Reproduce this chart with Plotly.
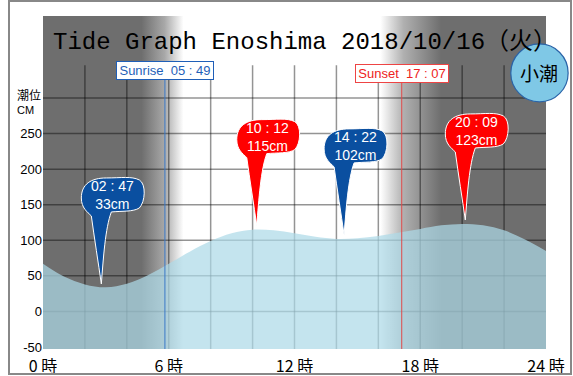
import plotly.graph_objects as go

# ---------------- data ----------------
hours = list(range(25))
tide_cm = [67, 49, 38, 34, 39, 51, 67, 84, 99, 110, 115, 114, 110, 105, 102,
           103, 106, 111, 116, 121, 123, 121, 114, 101, 85]

event_times = ["02:47", "10:12", "14:22", "20:09"]
event_cm = [33, 115, 102, 123]
event_kind = ["low", "high", "low", "high"]

sunrise = "05:49"
sunset = "17:07"

x_tick_hours = [0, 6, 12, 18, 24]
x_tick_text = ["0 時", "6 時", "12 時", "18 時", "24 時"]
y_tick_vals = [-50, 0, 50, 100, 150, 200, 250]
y_tick_text = ["-50", "0", "50", "100", "150", "200", "250"]
grid_hours = [2, 4, 6, 8, 10, 12, 14, 16, 18, 20, 22]
grid_cm = [0, 50, 100, 150, 200, 250, 300]

title_text = "Tide Graph Enoshima 2018/10/16（火）"
tide_type = "小潮"

# ---------------- helpers ----------------
def to_h(s):
    h, m = s.split(":")
    return int(h) + int(m) / 60.0

Y0, Y1 = -52.8, 415.3
X0, X1 = 0, 24
GRID_TOP = 346

DARK = "#6e6e6e"
fig = go.Figure()

# background with day/night gradient
fig.add_trace(go.Scatter(
    x=[X0, X1, X1, X0, X0], y=[Y0, Y0, Y1, Y1, Y0],
    mode="lines", line=dict(width=0), fill="toself",
    fillgradient=dict(
        type="horizontal", start=X0, stop=X1,
        colorscale=[[0, DARK], [4.7 / 24, DARK], [5.8 / 24, "#a8a8a8"],
                    [6.7 / 24, "#ffffff"], [16.1 / 24, "#ffffff"],
                    [17.2 / 24, "#b0b0b0"], [19.0 / 24, DARK], [1, DARK]]),
    hoverinfo="skip", showlegend=False))

# grid lines
gx, gy = [], []
for v in grid_cm:
    gx += [X0, X1, None]
    gy += [v, v, None]
for h in grid_hours:
    gx += [h, h, None]
    gy += [Y0, GRID_TOP, None]
fig.add_trace(go.Scatter(x=gx, y=gy, mode="lines",
                         line=dict(color="rgba(0,0,0,0.42)", width=1.5),
                         hoverinfo="skip", showlegend=False))

# baseline + tide area
fig.add_trace(go.Scatter(x=[X0, X1], y=[Y0, Y0], mode="lines",
                         line=dict(width=0), hoverinfo="skip", showlegend=False))
fig.add_trace(go.Scatter(x=hours, y=tide_cm, mode="lines",
                         line=dict(width=0, shape="spline", smoothing=1.0),
                         fill="tonexty", fillcolor="rgba(173,218,232,0.72)",
                         showlegend=False))

shapes = []
annotations = []

# sunrise / sunset lines
sr, ss = to_h(sunrise), to_h(sunset)
shapes.append(dict(type="line", xref="x", yref="paper", x0=sr, x1=sr, y0=0, y1=0.83,
                   line=dict(color="#3a78c8", width=1)))
shapes.append(dict(type="line", xref="x", yref="paper", x0=ss, x1=ss, y0=0, y1=0.82,
                   line=dict(color="#e04848", width=1)))
annotations.append(dict(x=sr, xref="x", y=0.836, yref="paper", showarrow=False,
                        xanchor="center", yanchor="middle",
                        text="Sunrise\u00a0\u00a0" + sunrise.replace(":", " : "),
                        font=dict(family="Liberation Sans Narrow, Liberation Sans", size=13, color="#1f5fb8"),
                        bgcolor="white", bordercolor="#1f5fb8", borderwidth=1, borderpad=1,
                        width=94))
annotations.append(dict(x=ss, xref="x", y=0.826, yref="paper", showarrow=False,
                        xanchor="center", yanchor="middle",
                        text="Sunset\u00a0\u00a0" + sunset.replace(":", " : "),
                        font=dict(family="Liberation Sans Narrow, Liberation Sans", size=13, color="#ee2222"),
                        bgcolor="white", bordercolor="#ee4444", borderwidth=1, borderpad=1,
                        width=90))

# pins
PIN_PATH = ("M 0 4 C -3 25, -7 50, -10 72 C -14 76, -20 80, -20 90 "
            "C -20 104, -10 110, 5 110 C 20 110, 30 112, 38 108 "
            "C 45 104, 44 86, 38 80 C 32 76, 20 77, 10 76 C 4 60, 2 30, 0 4 Z")
for t, cm, kind in zip(event_times, event_cm, event_kind):
    col = "#0a4fa0" if kind == "low" else "#ff0000"
    th = to_h(t)
    shapes.append(dict(type="path", xref="x", yref="y", xsizemode="pixel", ysizemode="pixel",
                       xanchor=th, yanchor=cm, path=PIN_PATH, fillcolor=col,
                       line=dict(color="white", width=1), layer="above"))
    annotations.append(dict(x=th, y=cm, xref="x", yref="y", showarrow=False,
                            xanchor="center", yanchor="middle",
                            xshift=11, yshift=93,
                            text=t.replace(":", " : ") + "<br>" + f"{cm}cm",
                            font=dict(family="Liberation Sans", size=14, color="white"),
                            align="center"))

# tide type badge
shapes.append(dict(type="circle", xref="paper", yref="paper",
                   x0=0.930, x1=1.044, y0=0.742, y1=0.916,
                   fillcolor="#7fc8e6", line=dict(color="#2a64a8", width=1.2)))
annotations.append(dict(x=0.987, y=0.829, xref="paper", yref="paper", showarrow=False,
                        xanchor="center", yanchor="middle",
                        text=tide_type,
                        font=dict(family="Noto Sans CJK JP", size=19, color="black")))

# title
annotations.insert(0, dict(x=0.52, y=0.919, xref="paper", yref="paper", showarrow=False,
                           xanchor="center", yanchor="middle",
                           text=title_text,
                           font=dict(family="Liberation Mono, Noto Sans CJK JP", size=24, color="black")))

# y axis caption
annotations.append(dict(x=-0.0557, y=300, xref="paper", yref="y", showarrow=False,
                        xanchor="left", yanchor="middle", yshift=4,
                        text="潮位",
                        font=dict(family="Noto Sans CJK JP", size=12, color="black")))
annotations.append(dict(x=-0.0557, y=300, xref="paper", yref="y", showarrow=False,
                        xanchor="left", yanchor="middle", yshift=-12,
                        text="CM",
                        font=dict(family="Liberation Sans Narrow, Liberation Sans", size=11, color="black")))

# outer frame
shapes.append(dict(type="rect", xref="paper", yref="paper",
                   x0=-0.0676, x1=1.0497, y0=-0.0751, y1=1.045,
                   line=dict(color="#888888", width=2), fillcolor="rgba(0,0,0,0)"))

fig.update_layout(
    width=573, height=376,
    margin=dict(l=43, r=27, t=16, b=27, autoexpand=False),
    paper_bgcolor="white", plot_bgcolor="white",
    shapes=shapes, annotations=annotations, showlegend=False,
    xaxis=dict(range=[X0, X1], showgrid=False, zeroline=False, showline=False,
               tickvals=x_tick_hours, ticktext=x_tick_text, ticks="",
               automargin=False, ticklabelstandoff=6,
               tickfont=dict(family="Noto Sans CJK JP", size=16, color="black"),
               fixedrange=True),
    yaxis=dict(range=[Y0, Y1], showgrid=False, zeroline=False, showline=False,
               tickvals=y_tick_vals, ticktext=y_tick_text, ticks="",
               automargin=False,
               tickfont=dict(family="Liberation Sans", size=13, color="black"),
               fixedrange=True),
)

fig.write_html("out.html", config={"displayModeBar": False},
               post_script="document.body.style.margin='0px';document.body.style.overflow='hidden';")
